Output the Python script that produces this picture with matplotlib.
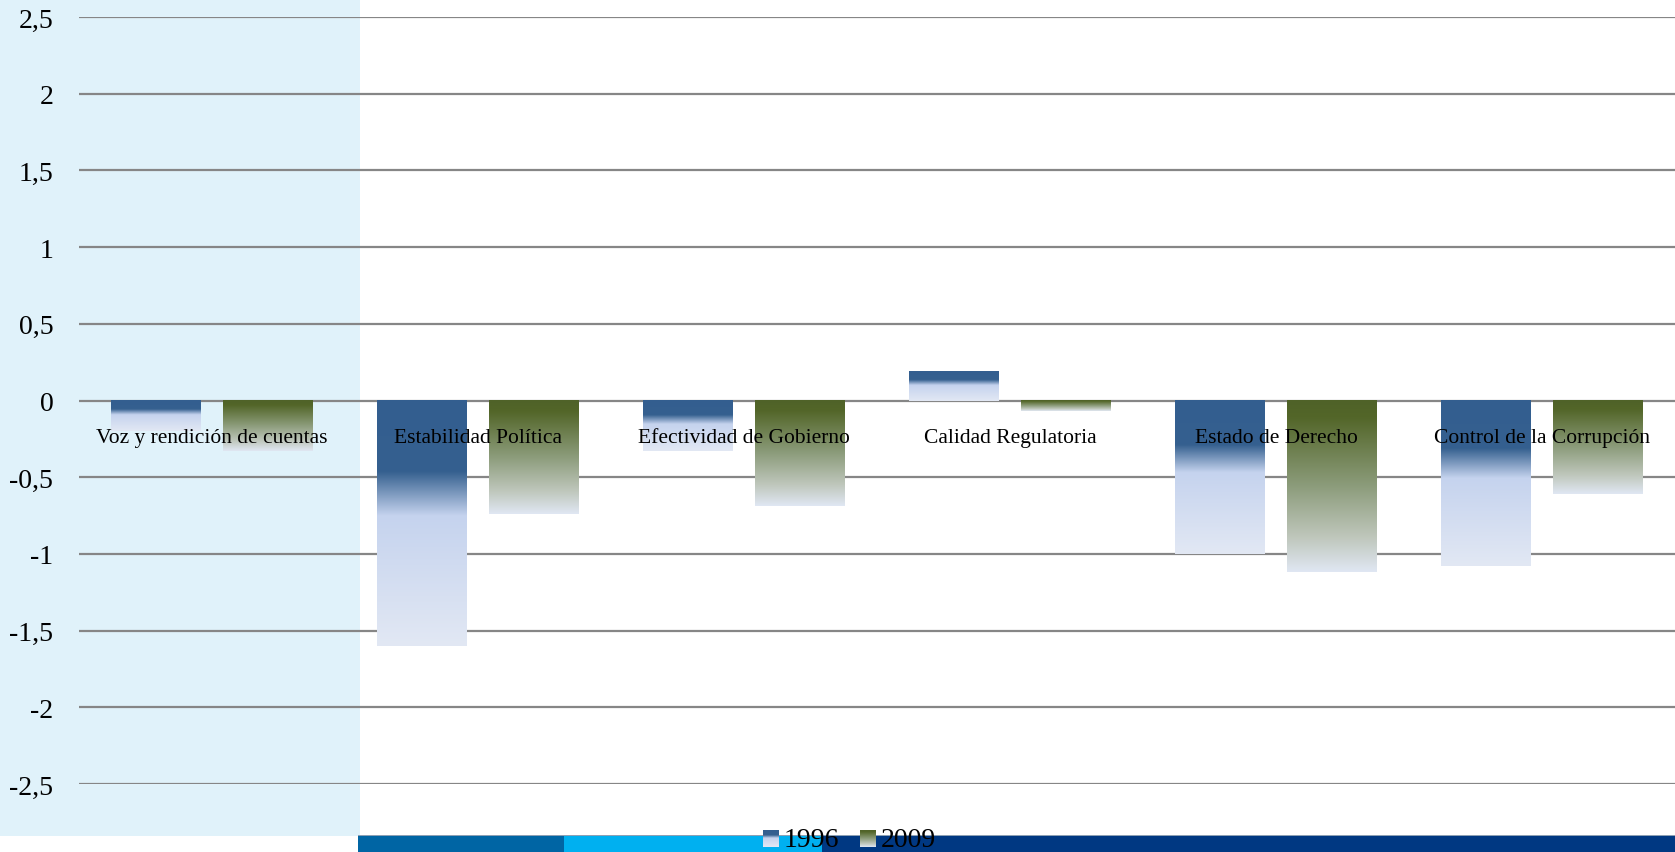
import numpy as np
import matplotlib
matplotlib.use("Agg")
import matplotlib.pyplot as plt
from matplotlib.colors import LinearSegmentedColormap
from matplotlib.patches import Rectangle

categories = ["Voz y rendición de cuentas", "Estabilidad Política",
              "Efectividad de Gobierno", "Calidad Regulatoria",
              "Estado de Derecho", "Control de la Corrupción"]
vals_1996 = [-0.20, -1.60, -0.33, 0.19, -1.00, -1.08]
vals_2009 = [-0.33, -0.74, -0.69, -0.07, -1.12, -0.61]
series_names = ["1996", "2009"]
yticks = [-2.5, -2, -1.5, -1, -0.5, 0, 0.5, 1, 1.5, 2, 2.5]

W, H = 1675, 853
SERIF = ["Liberation Serif", "DejaVu Serif"]

cmap_1996 = LinearSegmentedColormap.from_list(
    "c1996", [(0, "#335e90"), (0.29, "#35608f"), (0.47, "#c5d3ee"), (1, "#e2e8f4")])
cmap_2009 = LinearSegmentedColormap.from_list(
    "c2009", [(0, "#4f6228"), (0.1, "#536629"), (0.5, "#8c9c7b"),
              (0.8, "#bfc7bc"), (1, "#e0e7f3")])
grad = np.linspace(0, 1, 256).reshape(-1, 1)

fig = plt.figure(figsize=(W / 100, H / 100), dpi=100)
fig.patch.set_facecolor("white")

# light blue panel on the left, behind everything
fig.patches.append(Rectangle((0, 16 / H), 360 / W, 1 - 16 / H,
                             transform=fig.transFigure, facecolor="#e0f2fa",
                             edgecolor="none", zorder=-5))

ax = fig.add_axes([79 / W, (H - 785) / H, 1596 / W, 767 / H])
ax.set_zorder(1)
ax.patch.set_alpha(0)

x = np.arange(len(categories))
bw = 0.338
off = 0.21

for vals, dx, cm in [(vals_1996, -off, cmap_1996), (vals_2009, off, cmap_2009)]:
    bars = ax.bar(x + dx, vals, width=bw, facecolor="none", linewidth=0, zorder=3)
    for b in bars:
        x0, w = b.get_x(), b.get_width()
        y0, h = b.get_y(), b.get_height()
        lo, hi = min(y0, y0 + h), max(y0, y0 + h)
        ax.imshow(grad, cmap=cm, extent=(x0, x0 + w, lo, hi), origin="upper",
                  aspect="auto", interpolation="bilinear", zorder=3)

for t in yticks:
    ax.axhline(t, color="#868686", lw=1.6, zorder=2)

for i, c in enumerate(categories):
    ax.text(i, -0.24, c, ha="center", va="center", fontsize=15.5,
            family=SERIF, color="black", zorder=5)

ax.set_xlim(-0.5, len(categories) - 0.5)
ax.set_ylim(-2.5, 2.5)
ax.set_xticks([])
ax.set_yticks(yticks)
ax.set_yticklabels([f"{t:g}".replace(".", ",") for t in yticks],
                   family=SERIF, fontsize=20)
ax.tick_params(axis="y", length=0, pad=18.5)
for s in ax.spines.values():
    s.set_visible(False)

# bottom band
band_h = 16 / H
for x0, x1, col in [(358, 564, "#0065a4"), (564, 822, "#00b0f0"), (822, W, "#003882")]:
    fig.patches.append(Rectangle((x0 / W, 0), (x1 - x0) / W, band_h,
                                 transform=fig.transFigure, facecolor=col,
                                 edgecolor="none", zorder=0.5))
fig.patches.append(Rectangle((358 / W, band_h), 1 - 358 / W, 1.5 / H,
                             transform=fig.transFigure, facecolor="#8da0b4",
                             edgecolor="none", zorder=0.5))

# legend with gradient swatches
for (sx, tx), name, cm in zip([(763, 784), (860, 881)], series_names,
                              [cmap_1996, cmap_2009]):
    sw = fig.add_axes([sx / W, (H - 848) / H, 16 / W, 17 / H])
    sw.set_zorder(2)
    sw.imshow(grad, cmap=cm, aspect="auto", origin="upper")
    sw.axis("off")
    t = fig.text(tx / W, (H - 841) / H, name, ha="left", va="center",
                 fontsize=20, family=SERIF, color="black")
    t.set_zorder(3)

fig.savefig("out.png", dpi=100)
